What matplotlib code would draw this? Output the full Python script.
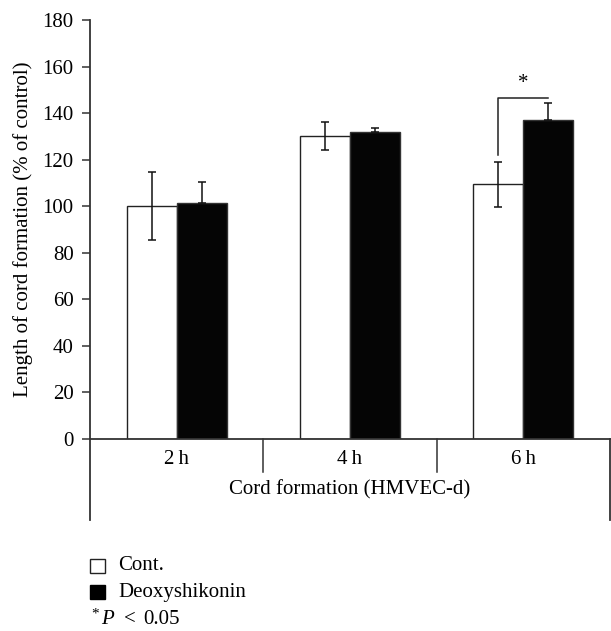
import matplotlib
matplotlib.use("Agg")
import matplotlib.pyplot as plt
from matplotlib.patches import Rectangle
import matplotlib.transforms as mtransforms

plt.rcParams['font.family'] = ['Liberation Serif', 'DejaVu Serif']

groups = ["2\u2009h", "4\u2009h", "6\u2009h"]
cont = [100, 130, 109.5]
cont_err = [14.5, 6, 9.7]
deoxy = [101.5, 132, 137]
deoxy_err = [9, 1.7, 7.5]
yticks = [0, 20, 40, 60, 80, 100, 120, 140, 160, 180]

W, H = 611, 631
fig = plt.figure(figsize=(W/100, H/100), dpi=100)
ax = fig.add_axes([90/W, (H-439)/H, (610-90)/W, (439-20)/H])

FS = 15
axcol = '#333333'
bw = 0.288
x = list(range(len(groups)))
xc = [i - bw/2 for i in x]
xd = [i + bw/2 for i in x]
ax.bar(xc, cont, width=bw, color='white', edgecolor='#222222', linewidth=1.0, zorder=2)
ax.bar(xd, deoxy, width=bw, color='#050505', edgecolor='#333333', linewidth=1.0, zorder=2)
ax.errorbar(xc, cont, yerr=cont_err, fmt='none', ecolor='#111111', elinewidth=1.1, capsize=3, capthick=1.1, zorder=3)
ax.errorbar(xd, deoxy, yerr=[[0]*3, deoxy_err], fmt='none', ecolor='#111111', elinewidth=1.1, capsize=3, capthick=1.1, zorder=3)

# significance bracket for 6 h
ax.plot([xc[2], xc[2], xd[2]], [122, 146.6, 146.6], color='#222222', lw=1.1, zorder=3)
ax.text(2, 148.5, "*", ha='center', va='bottom', fontsize=15)

ax.set_xlim(-0.5, 2.5)
ax.set_ylim(0, 180)
ax.set_yticks(yticks)
ax.tick_params(axis='y', direction='out', length=5.8, width=1.1, color=axcol, labelsize=FS, pad=6)
ax.set_xticks(x)
ax.set_xticklabels(groups, fontsize=FS)
ax.tick_params(axis='x', length=0, pad=8)
for s in ['top', 'right']:
    ax.spines[s].set_visible(False)
for s in ['left', 'bottom']:
    ax.spines[s].set_color(axcol)
    ax.spines[s].set_linewidth(1.3)

trans = mtransforms.blended_transform_factory(ax.transData, ax.transAxes)
ax.plot([-0.5, -0.5], [0, -0.193], transform=trans, color=axcol, lw=1.3, clip_on=False)
ax.plot([2.5, 2.5], [0, -0.193], transform=trans, color=axcol, lw=1.3, clip_on=False)
for d in [0.5, 1.5]:
    ax.plot([d, d], [0, -0.078], transform=trans, color=axcol, lw=1.1, clip_on=False)

ax.text(1, -0.122, "Cord formation (HMVEC-d)", transform=trans, ha='center', va='center', fontsize=FS)
ax.set_ylabel("Length of cord formation (% of control)", fontsize=FS, labelpad=7)

# legend
fig.patches.append(Rectangle((90/W, 1-573/H), 15/W, 14/H, transform=fig.transFigure,
                             facecolor='white', edgecolor='#222222', lw=1.0, figure=fig))
fig.patches.append(Rectangle((90/W, 1-599/H), 15/W, 14/H, transform=fig.transFigure,
                             facecolor='black', edgecolor='black', figure=fig))
fig.text(118/W, 1-566/H, "Cont.", fontsize=FS, va='center', ha='left')
fig.text(118/W, 1-592/H, "Deoxyshikonin", fontsize=FS, va='center', ha='left')
fig.text(91/W, 1-614/H, "*", fontsize=11, va='center', ha='left')
fig.text(101/W, 1-619/H, "P", fontsize=FS, va='center', ha='left', style='italic')
fig.text(124/W, 1-619/H, "<", fontsize=FS, va='center', ha='left')
fig.text(143/W, 1-619/H, "0.05", fontsize=FS, va='center', ha='left')

fig.savefig("out.png", dpi=100)
